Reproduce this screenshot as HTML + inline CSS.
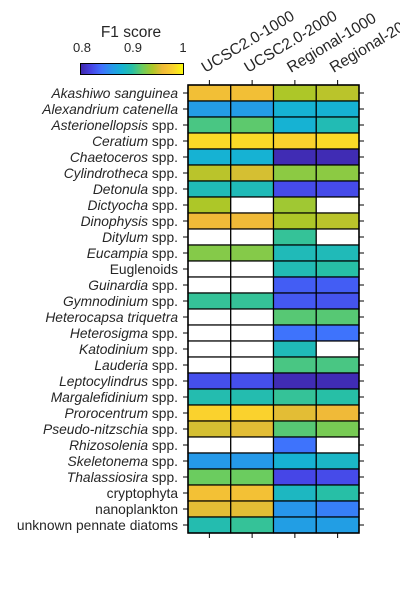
<!DOCTYPE html>
<html><head><meta charset="utf-8"><style>
html,body{margin:0;padding:0;background:#fff;width:400px;height:600px;overflow:hidden}
svg{display:block;font-family:"Liberation Sans",Arial,sans-serif}
</style></head><body>
<svg id="chart" width="400" height="600" xmlns="http://www.w3.org/2000/svg">
<defs>
<linearGradient id="parula" x1="0" x2="1" y1="0" y2="0">
<stop offset="0" stop-color="#3e26a8"/><stop offset="0.1" stop-color="#4742e4"/>
<stop offset="0.2" stop-color="#416ffe"/><stop offset="0.3" stop-color="#2796eb"/>
<stop offset="0.4" stop-color="#16b2d3"/><stop offset="0.5" stop-color="#27bfa6"/>
<stop offset="0.6" stop-color="#6bcc5f"/><stop offset="0.7" stop-color="#adc728"/>
<stop offset="0.8" stop-color="#f0ba38"/><stop offset="0.9" stop-color="#fad22d"/>
<stop offset="1" stop-color="#f9fb0e"/></linearGradient>
</defs>
<g id="colorbar">
<text x="131" y="37" font-size="15.5" text-anchor="middle" fill="#262626">F1 score</text>
<text x="82" y="52" font-size="13" text-anchor="middle" fill="#262626">0.8</text>
<text x="133" y="52" font-size="13" text-anchor="middle" fill="#262626">0.9</text>
<text x="183" y="52" font-size="13" text-anchor="middle" fill="#262626">1</text>
<rect x="80.5" y="63.5" width="103" height="11" fill="url(#parula)" stroke="#000" stroke-width="1"/>
</g>
<g id="cells"></g>
<g id="axes"></g>
</svg>
<script>
const categories=["Akashiwo sanguinea","Alexandrium catenella","Asterionellopsis spp.","Ceratium spp.","Chaetoceros spp.","Cylindrotheca spp.","Detonula spp.","Dictyocha spp.","Dinophysis spp.","Ditylum spp.","Eucampia spp.","Euglenoids","Guinardia spp.","Gymnodinium spp.","Heterocapsa triquetra","Heterosigma spp.","Katodinium spp.","Lauderia spp.","Leptocylindrus spp.","Margalefidinium spp.","Prorocentrum spp.","Pseudo-nitzschia spp.","Rhizosolenia spp.","Skeletonema spp.","Thalassiosira spp.","cryptophyta","nanoplankton","unknown pennate diatoms"];
const italicParts=["Akashiwo sanguinea","Alexandrium catenella","Asterionellopsis","Ceratium","Chaetoceros","Cylindrotheca","Detonula","Dictyocha","Dinophysis","Ditylum","Eucampia","","Guinardia","Gymnodinium","Heterocapsa triquetra","Heterosigma","Katodinium","Lauderia","Leptocylindrus","Margalefidinium","Prorocentrum","Pseudo-nitzschia","Rhizosolenia","Skeletonema","Thalassiosira","","",""];
const models=["UCSC2.0-1000","UCSC2.0-2000","Regional-1000","Regional-2000"];
const N=null;
const ucsc1000=[0.964,0.864,0.910,0.984,0.880,0.944,0.892,0.940,0.960,N,0.928,N,N,0.904,N,N,N,N,0.826,0.896,0.980,0.952,N,0.862,0.920,0.966,0.956,0.896];
const ucsc2000=[0.964,0.864,0.916,0.984,0.880,0.952,0.892,N,0.960,N,0.928,N,N,0.904,N,N,N,N,0.826,0.896,0.980,0.956,N,0.862,0.920,0.966,0.956,0.904];
const regional1000=[0.940,0.880,0.880,0.980,0.804,0.930,0.824,0.936,0.940,0.904,0.892,0.894,0.832,0.830,0.914,0.842,0.892,0.910,0.804,0.904,0.956,0.914,0.842,0.880,0.822,0.888,0.860,0.866];
const regional2000=[0.944,0.880,0.894,0.984,0.804,0.930,0.824,N,0.944,N,0.892,0.900,0.832,0.828,0.914,0.842,N,0.910,0.804,0.900,0.960,0.924,N,0.886,0.824,0.900,0.848,0.866];
const series=[ucsc1000,ucsc2000,regional1000,regional2000];
const vmin=0.8,vmax=1;
const stops=[[62,38,168],[71,66,228],[65,111,254],[39,150,235],[22,178,211],[39,191,166],[107,204,95],[173,199,40],[240,186,56],[250,210,45],[249,251,14]];
function color(v){let t=Math.max(0,Math.min(1,(v-vmin)/(vmax-vmin)))*10;let i=Math.min(9,Math.floor(t)),f=t-i;const a=stops[i],b=stops[i+1];return `rgb(${a.map((c,k)=>Math.round(c+(b[k]-c)*f)).join(',')})`;}
const X0=188,X1=359,Y0=85,Y1=533;
const cw=(X1-X0)/models.length, rh=(Y1-Y0)/categories.length;
function xPos(j){return X0+j*cw;} function yPos(i){return Y0+i*rh;}
const NS="http://www.w3.org/2000/svg";
const cells=document.getElementById('cells'),axes=document.getElementById('axes');
function mk(t,at,p){const e=document.createElementNS(NS,t);for(const k in at)e.setAttribute(k,at[k]);(p||axes).appendChild(e);return e;}
series.forEach((s,j)=>s.forEach((v,i)=>{
 const r=mk('rect',{x:xPos(j),y:yPos(i),width:cw,height:rh,fill:v===null?'#fff':color(v),stroke:'#000','stroke-width':1.2},cells);
 
 
}));
const frame=mk('rect',{x:X0,y:Y0,width:X1-X0,height:Y1-Y0,fill:'none',stroke:'#000','stroke-width':1.5});


categories.forEach((c,i)=>{
 const yc=yPos(i)+rh/2;
 mk('line',{x1:X0-5,x2:X0,y1:yc,y2:yc,stroke:'#000'});
 mk('line',{x1:X1,x2:X1+5,y1:yc,y2:yc,stroke:'#000'});
 const t=mk('text',{x:X0-10,y:yc+4.8,'font-size':13.8,'text-anchor':'end',fill:'#262626'});
 
 
 const it=italicParts[i];
 if(it){const s1=mk('tspan',{'font-style':'italic'},t);s1.textContent=it;const rest=c.slice(it.length);if(rest){const s2=mk('tspan',{},t);s2.textContent=rest;}}
 else t.textContent=c;
});
models.forEach((m,j)=>{
 const xc=xPos(j)+cw/2;
 mk('line',{x1:xc,x2:xc,y1:Y0-5,y2:Y0,stroke:'#000'});
 mk('line',{x1:xc,x2:xc,y1:Y1,y2:Y1+5,stroke:'#000'});
 const t=mk('text',{x:xc-4,y:Y0-12,'font-size':15.5,fill:'#262626',transform:`rotate(-31 ${xc-4} ${Y0-12})`});
 
 
 t.textContent=m;
});
</script>
</body></html>
